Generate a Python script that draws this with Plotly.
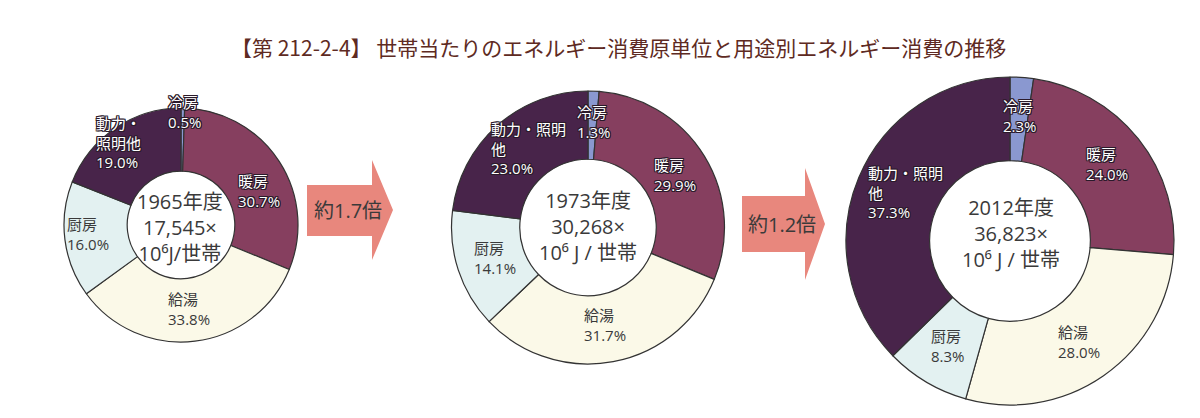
import plotly.graph_objects as go

# ---------------- data ----------------
categories = ["冷房", "暖房", "給湯", "厨房", "動力・照明他"]
share_1965 = [0.5, 30.7, 33.8, 16.0, 19.0]
share_1973 = [1.3, 29.9, 31.7, 14.1, 23.0]
share_2012 = [2.3, 24.0, 28.0, 8.3, 37.3]
years = ["1965", "1973", "2012"]
totals = ["17,545", "30,268", "36,823"]
ratios = ["約1.7倍", "約1.2倍"]
title_text = "【第 212-2-4】 世帯当たりのエネルギー消費原単位と用途別エネルギー消費の推移"

# ---------------- style ----------------
W, H = 1200, 418
FONT = "Open Sans, Noto Sans CJK JP, sans-serif"
TITLE_FONT = "Noto Sans CJK JP, sans-serif"
slice_colors = ["#8A98D0", "#863F5F", "#FBF9E8", "#E3F1F1", "#48244A"]
dark_text = "#3a3a3a"
oc = "#2a1a2a"
outline = ", ".join(f"{dx}px {dy}px 0 {oc}" for dx, dy in
                    [(-1, -1), (1, -1), (-1, 1), (1, 1), (0, 1), (0, -1), (1, 0), (-1, 0)])


def px(x):
    return x / W


def py(y):
    return 1 - y / H


fig = go.Figure()

# pie geometry (pixel centre x, centre y, radius, hole)
geoms = [(181, 225, 117, 0.46), (588, 227.5, 136.5, 0.50), (1010, 241, 164, 0.49)]
shares = [share_1965, share_1973, share_2012]

for (cx, cy, r, hole), vals in zip(geoms, shares):
    fig.add_trace(go.Pie(
        labels=categories,
        values=vals,
        sort=False,
        direction="clockwise",
        rotation=0,
        hole=hole,
        textinfo="none",
        hoverinfo="label+percent",
        showlegend=False,
        marker=dict(colors=slice_colors, line=dict(color="#333333", width=1.2)),
        domain=dict(x=[px(cx - r), px(cx + r)], y=[py(cy + r), py(cy - r)]),
    ))

annotations = []


def ann(x, y, text, size, color=dark_text, xanchor="left", shadow=None, family=FONT):
    f = dict(family=family, size=size, color=color)
    if shadow:
        f["shadow"] = shadow
    annotations.append(dict(
        x=px(x), y=py(y), xref="paper", yref="paper", text=text,
        showarrow=False, xanchor=xanchor, yanchor="middle", align=xanchor, font=f,
    ))


def label(x, yc, lines, white):
    txt = "<br>".join(lines)
    if white:
        ann(x, yc, txt, 15, color="white", shadow=outline)
    else:
        ann(x, yc, txt, 15, color=dark_text)


def pct(v):
    return f"{v:.1f}%"


# ---- pie 1 labels (1965)
label(166, 112, ["冷房", pct(share_1965[0])], True)
label(94, 142.5, ["動力・", "照明他", pct(share_1965[4])], True)
label(236, 191, ["暖房", pct(share_1965[1])], True)
label(65, 234.5, ["厨房", pct(share_1965[3])], False)
label(166, 308.5, ["給湯", pct(share_1965[2])], False)

# ---- pie 2 labels (1973)
label(575, 122, ["冷房", pct(share_1973[0])], True)
label(489, 148, ["動力・照明", "他", pct(share_1973[4])], True)
label(652, 175.5, ["暖房", pct(share_1973[1])], True)
label(472, 257.5, ["厨房", pct(share_1973[3])], False)
label(582, 324.5, ["給湯", pct(share_1973[2])], False)

# ---- pie 3 labels (2012)
label(1001, 116.5, ["冷房", pct(share_2012[0])], True)
label(866, 192.5, ["動力・照明", "他", pct(share_2012[4])], True)
label(1084, 164, ["暖房", pct(share_2012[1])], True)
label(929, 346, ["厨房", pct(share_2012[3])], False)
label(1056, 342, ["給湯", pct(share_2012[2])], False)

# ---- centre texts
centres = [(180, 227, "10⁶J/世帯"),
           (588, 226, "10⁶ J / 世帯"),
           (1011, 233, "10⁶ J / 世帯")]
for (cx, cy, unit), yr, tot in zip(centres, years, totals):
    txt = "<br>".join([f"{yr}年度", f"{tot}×", unit])
    ann(cx, cy, txt, 20, color="#3a3a3a", xanchor="center")

# ---- arrows
arrow_geoms = [(307, 372, 393, 185, 236, 160, 260), (742, 805, 825, 196, 252, 168, 280)]
shapes = []
for (x0, xh, xt, s0, s1, h0, h1), txt in zip(arrow_geoms, ratios):
    ym = (h0 + h1) / 2
    path = (f"M {px(x0)},{py(s0)} L {px(xh)},{py(s0)} L {px(xh)},{py(h0)} "
            f"L {px(xt)},{py(ym)} L {px(xh)},{py(h1)} L {px(xh)},{py(s1)} "
            f"L {px(x0)},{py(s1)} Z")
    shapes.append(dict(type="path", path=path, xref="paper", yref="paper",
                       fillcolor="#E8877D", line=dict(width=0), layer="below"))
    ann((x0 + xh) / 2 + 8, (s0 + s1) / 2, txt, 20, color="#3a3a3a", xanchor="center")

# ---- title
ann(618, 47, title_text, 21, color="#5E2A22", xanchor="center", family=TITLE_FONT)

fig.update_layout(
    width=W, height=H,
    margin=dict(l=0, r=0, t=0, b=0),
    paper_bgcolor="white", plot_bgcolor="white",
    annotations=annotations,
    shapes=shapes,
    font=dict(family=FONT),
)

fig.write_html("out.html", config={"displayModeBar": False},
               post_script="document.body.style.margin='0';")
